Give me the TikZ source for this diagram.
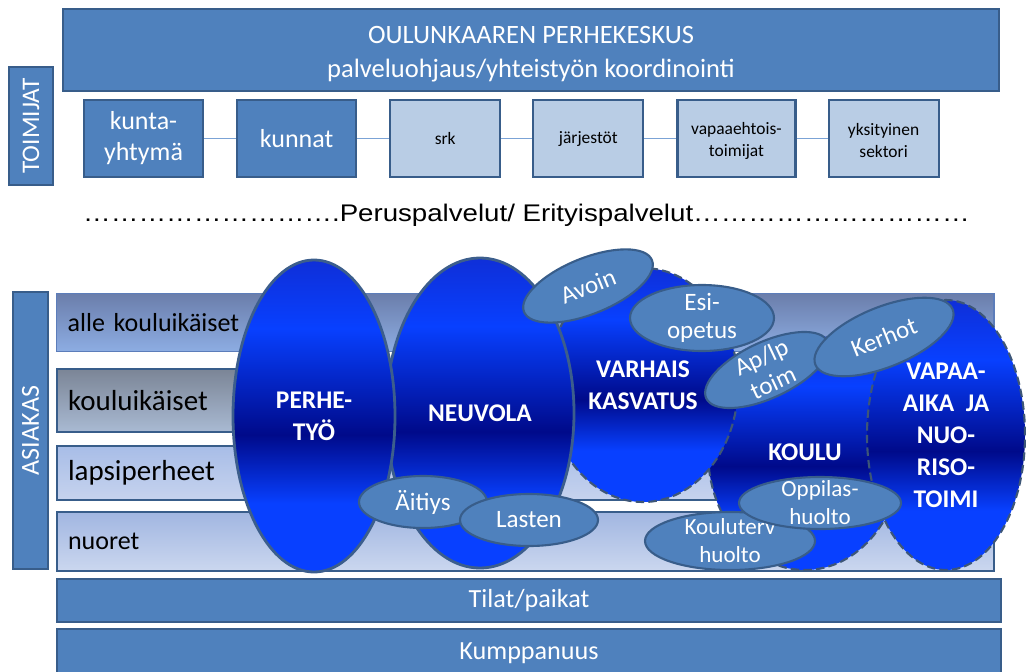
\documentclass[tikz,border=0pt]{standalone}
\usepackage{fontspec}
\setmainfont{Carlito}
\newfontfamily\arialfont[FakeStretch=1.15]{Liberation Sans}
\usetikzlibrary{positioning,shapes.geometric}
\definecolor{barblue}{HTML}{4F81BD}
\definecolor{barline}{HTML}{385D8A}
\definecolor{paleblue}{HTML}{B9CDE5}
\definecolor{linkblue}{HTML}{7BA3D6}
\definecolor{ellline}{HTML}{3C5E8C}
\definecolor{dashline}{HTML}{3D5677}
\definecolor{ellhi}{HTML}{0840FF}
\definecolor{ellmid}{HTML}{0F2FD8}
\definecolor{elllo}{HTML}{000A8A}
\definecolor{alletop}{HTML}{6B7EAB}
\definecolor{allebot}{HTML}{8DADE3}
\definecolor{alleline}{HTML}{5C7DBA}
\definecolor{koulutop}{HTML}{7B8596}
\definecolor{koulubot}{HTML}{A9BAD3}
\definecolor{lapsitop}{HTML}{A8BDE7}
\definecolor{lapsibot}{HTML}{C6D3EE}
\definecolor{nuortop}{HTML}{A1B6E1}
\definecolor{nuorbot}{HTML}{CBD7EF}
\newcommand\pxu{0.025cm}
\newcommand\fs[2]{\fontsize{#1}{#2}\selectfont}
\pgfdeclareverticalshading{ellband}{100bp}{color(0bp)=(ellhi); color(25bp)=(ellhi);
  color(36bp)=(ellhi); color(47bp)=(elllo); color(64bp)=(ellhi); color(75bp)=(ellmid); color(100bp)=(ellmid)}

\begin{document}
\begin{tikzpicture}[x=\pxu,y=-\pxu,
  bar/.style={rectangle,draw=barline,line width=1.5pt,fill=barblue,text=white,inner sep=0pt,align=center},
  darkbox/.style={bar,minimum width=119*\pxu,minimum height=77*\pxu,font=\fs{18.5}{22}},
  lightbox/.style={bar,fill=paleblue,text=black,minimum width=110*\pxu,minimum height=77*\pxu,font=\fs{12.4}{15.6}},
  link/.style={draw=linkblue,line width=1pt},
  layer/.style={rectangle,draw=barline,line width=1.5pt,minimum width=937*\pxu,anchor=north west,
    inner xsep=0.275cm,inner ysep=0pt,text width=22.875cm,align=left},
  bigell/.style={ellipse,shade,shading=ellband,draw=ellline,line width=2pt,inner sep=0pt,
    text=white,align=center,font=\bfseries\fs{18.1}{22.8}},
  openell/.style={bigell,draw=dashline,line width=1.5pt,dash pattern=on 6pt off 3pt},
  smallell/.style={ellipse,fill=barblue,draw=barline,line width=1.5pt,inner sep=-8pt,
    text=white,align=center,font=\fs{17.8}{19.9}}]
\useasboundingbox (0,0) rectangle (1026,671);
\clip (0,0) rectangle (1026,671);

\node[bar,minimum width=936*\pxu,minimum height=82*\pxu,font=\fs{18.85}{24.2}] (keskus) at (531,50)
  {\rule{0pt}{18pt}OULUNKAAREN PERHEKESKUS\\palveluohjaus/yhteistyön koordinointi};
\node[bar,rotate=90,minimum width=118*\pxu,minimum height=44*\pxu,font=\fs{18}{20}] (toimijat) at (31,126) {TOIMIJAT};
\node[darkbox] (kunta) at (143.5,138.5) {kunta-\\yhtymä};
\node[darkbox,right=0.8cm of kunta] (kunnat) {kunnat};
\node[lightbox,right=0.8cm of kunnat] (srk) {srk};
\node[lightbox,right=0.775cm of srk] (jarj) {järjestöt};
\node[lightbox,minimum width=118*\pxu,right=0.8cm of jarj] (vapaaeht) {\rule{0pt}{12pt}vapaaehtois-\\toimijat};
\node[lightbox,right=0.775cm of vapaaeht] (yksit) {\rule{0pt}{12pt}yksityinen\\sektori};
\draw[link] (kunta) -- (kunnat);
\draw[link] (kunnat) -- (srk);
\draw[link] (srk) -- (jarj);
\draw[link] (jarj) -- (vapaaeht);
\draw[link] (vapaaeht) -- (yksit);

\node[font=\arialfont\fs{17.1}{20}] (taso) at (526.5,215)
  {……………………….Peruspalvelut/ Erityispalvelut…………………………};

\node[bar,rotate=90,minimum width=277*\pxu,minimum height=35*\pxu,font=\fs{18.5}{20}] (asiakas) at (30.5,430.5) {ASIAKAS};
\node[layer,top color=alletop,bottom color=allebot,draw=alleline,line width=1pt,minimum height=58*\pxu,
  font=\fs{18.5}{20}] (alle) at (56,293) {alle kouluikäiset};
\node[layer,top color=koulutop,bottom color=koulubot,minimum height=63*\pxu,font=\fs{20.6}{22}] (kouluik) at (56,368) {kouluikäiset};
\node[layer,top color=lapsitop,bottom color=lapsibot,minimum height=54*\pxu,font=\fs{20.6}{22}] (lapsi) at (56,445) {lapsiperheet};
\node[layer,top color=nuortop,bottom color=nuorbot,minimum height=59*\pxu,font=\fs{18.5}{20}] (nuoret) at (56,511) {nuoret};
\node[bar,anchor=north west,minimum width=944*\pxu,minimum height=43*\pxu,font=\fs{18.6}{20}] (tilat) at (56,578) {Tilat/paikat};
\node[bar,anchor=north west,minimum width=944*\pxu,minimum height=48*\pxu,font=\fs{18.6}{20}] (kumpp) at (56,628) {Kumppanuus};

\node[openell,minimum width=194*\pxu,minimum height=236*\pxu] (koulu) at (805,452) {KOULU};
\node[openell,minimum width=158*\pxu,minimum height=270*\pxu] (vapaa) at (946,435) {VAPAA-\\AIKA~~JA\\NUO-\\RISO-\\TOIMI};
\node[openell,minimum width=190*\pxu,minimum height=234*\pxu] (varhais) at (643,385) {VARHAIS\\KASVATUS};
\node[bigell,minimum width=188*\pxu,minimum height=310*\pxu] (neuvola) at (480,413) {NEUVOLA};
\node[bigell,minimum width=162*\pxu,minimum height=312*\pxu] (perhe) at (314,416) {PERHE-\\TYÖ};

\node[smallell,minimum width=128*\pxu,minimum height=52*\pxu] (aitiys) at (423,502) {Äitiys};
\node[smallell,minimum width=138*\pxu,minimum height=52*\pxu] (lasten) at (529,520) {Lasten};
\node[smallell,rotate=22,minimum width=138*\pxu,minimum height=56*\pxu] (avoin) at (588,286) {Avoin};
\node[smallell,minimum width=144*\pxu,minimum height=66*\pxu] (esi) at (702,318) {Esi-\\opetus};
\node[smallell,rotate=25,minimum width=134*\pxu,minimum height=56*\pxu] (aplp) at (767,370) {Ap/lp\\toim};
\node[smallell,rotate=22,minimum width=148*\pxu,minimum height=60*\pxu] (kerhot) at (884,337) {Kerhot};
\node[smallell,minimum width=170*\pxu,minimum height=58*\pxu,font=\fs{16.4}{19.9}] (kouluterv) at (730,541) {Kouluterv\\huolto};
\node[smallell,minimum width=162*\pxu,minimum height=52*\pxu,font=\fs{16.4}{19.9}] (oppilas) at (820,503) {Oppilas-\\huolto};
\end{tikzpicture}
\end{document}
